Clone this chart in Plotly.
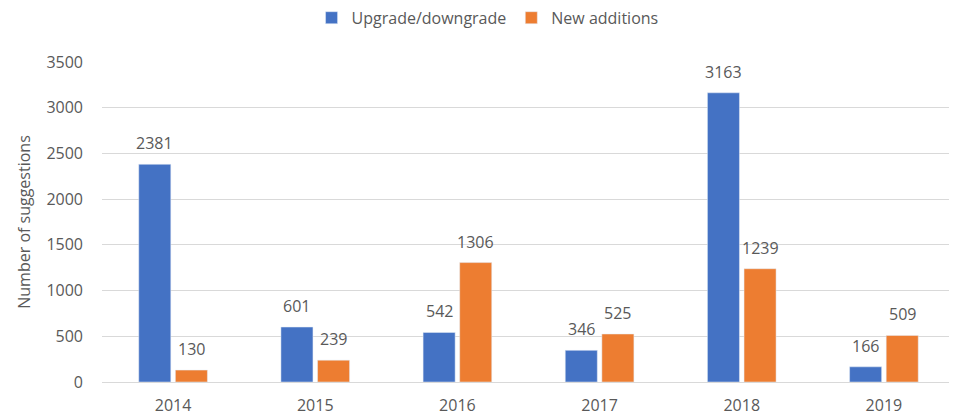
import plotly.graph_objects as go

years = ["2014", "2015", "2016", "2017", "2018", "2019"]
upgrade = [2381, 601, 542, 346, 3163, 166]
new_add = [130, 239, 1306, 525, 1239, 509]
y_ticks = [0, 500, 1000, 1500, 2000, 2500, 3000, 3500]

FONT = "Open Sans"
GREY = "#595959"
FS = 16

# page body has an 8px margin, so the figure is 8px smaller than the window
W, H = 949, 407
BARGAP, GROUPGAP = 0.485, 0.125
ML, MR = 94, 2

series = [("Upgrade/downgrade", upgrade, "#4472C4"),
          ("New additions", new_add, "#ED7D31")]

fig = go.Figure()
for name, vals, col in series:
    fig.add_trace(go.Bar(x=years, y=vals, name=name,
                         marker=dict(color=col)))

# data labels, placed over each bar of the group (x = category serial number)
plot_w = W - ML - MR
slot = plot_w / len(years) * (1 - BARGAP) / len(series)
for i, (name, vals, col) in enumerate(series):
    shift = (i - (len(series) - 1) / 2) * slot
    for k, v in enumerate(vals):
        fig.add_annotation(x=k, y=v, text=str(v), showarrow=False,
                           xshift=shift, yshift=8, yanchor="bottom",
                           font=dict(family=FONT, size=FS, color=GREY))

fig.update_layout(
    width=W, height=H,
    margin=dict(l=ML, r=MR, t=54, b=33, autoexpand=False),
    paper_bgcolor="white", plot_bgcolor="white",
    barmode="group", bargap=BARGAP, bargroupgap=GROUPGAP,
    font=dict(family=FONT, size=FS, color=GREY),
    legend=dict(orientation="h", x=0.452, xanchor="center", y=1.085, yanchor="bottom",
                font=dict(family=FONT, size=FS, color=GREY),
                itemwidth=30, traceorder="normal"),
    xaxis=dict(type="category", showgrid=False, showline=True, linecolor="#D9D9D9",
               ticks="", automargin=False, ticklabelstandoff=9,
               tickfont=dict(family=FONT, size=FS, color=GREY)),
    yaxis=dict(range=[0, 3500], tickvals=y_ticks, showgrid=True, gridcolor="#D9D9D9",
               zeroline=False, ticks="", automargin=False, ticklabelstandoff=18,
               tickfont=dict(family=FONT, size=FS, color=GREY),
               title=dict(text="Number of suggestions", standoff=11,
                          font=dict(family=FONT, size=FS, color=GREY))),
    showlegend=True,
)

fig.write_html("out.html")
